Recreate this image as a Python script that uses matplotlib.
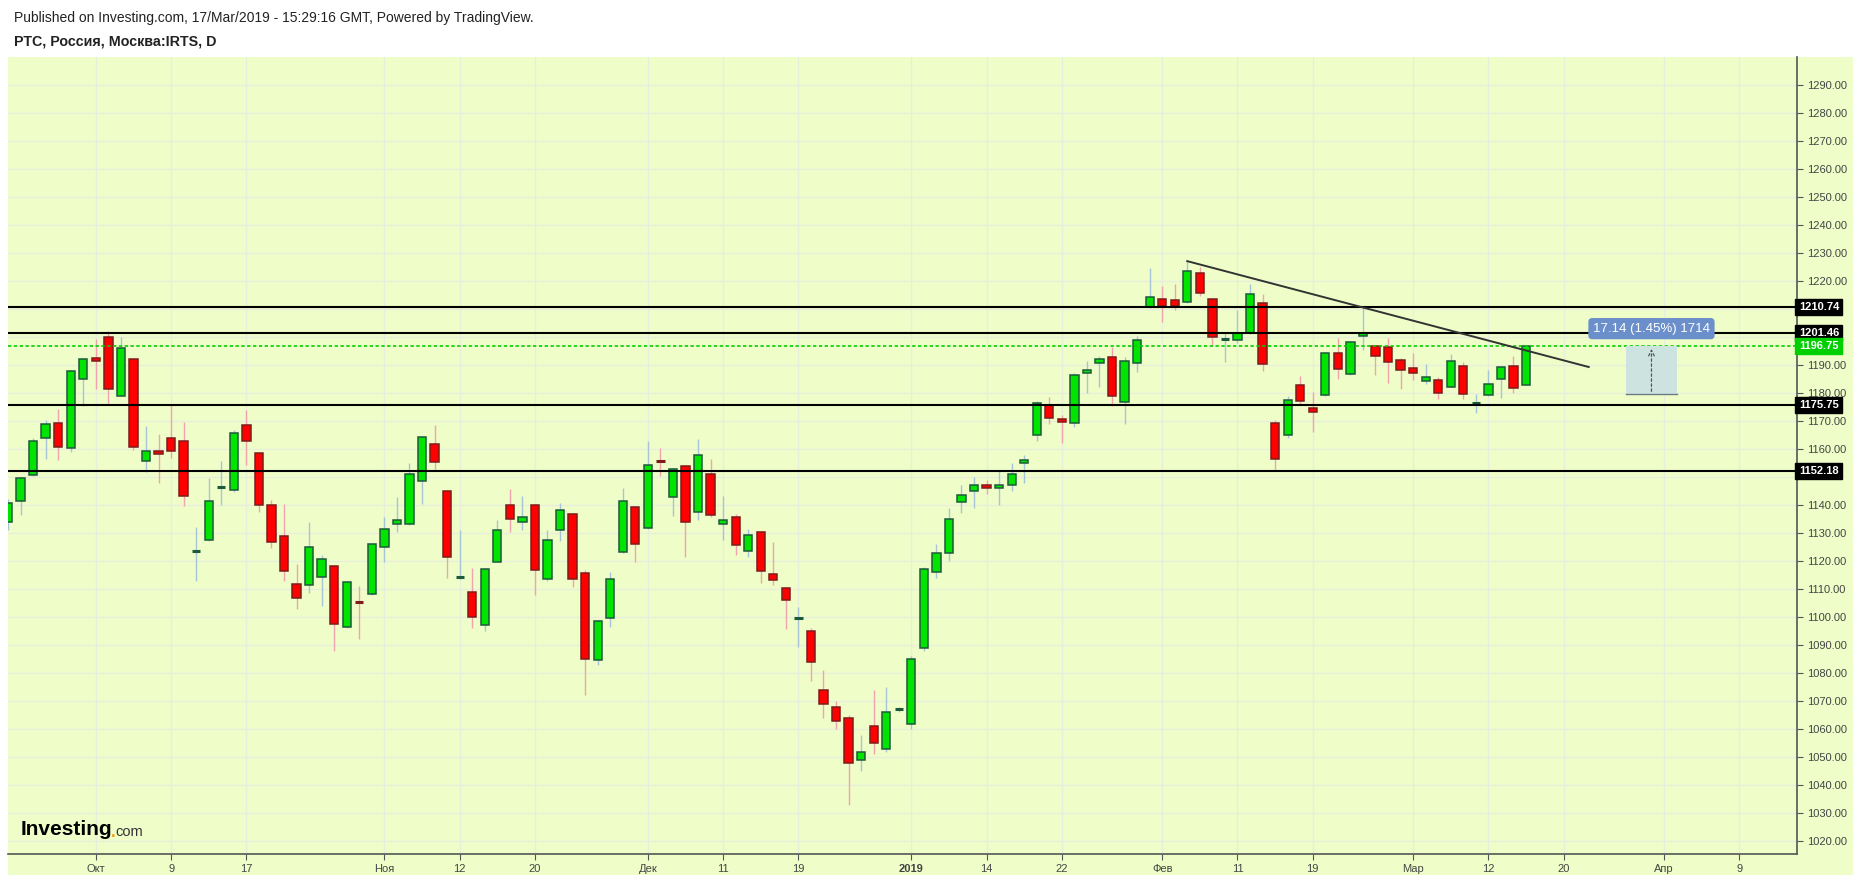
import matplotlib
matplotlib.use("Agg")
import matplotlib.pyplot as plt
import matplotlib.patches as patches
import matplotlib.transforms as mtransforms

# ---- data (daily OHLC, bar index 0 = 20 Sep 2018) ----
opens = [1134, 1141.45, 1150.7, 1163.95, 1169.3, 1160.4, 1185.0, 1192.5, 1200.0, 1179.0,
         1192.2, 1155.7, 1159.3, 1163.95, 1162.9, 1123.5, 1127.5, 1146.0, 1145.3, 1168.6,
         1158.6, 1140.0, 1128.96, 1111.8, 1111.5, 1114.3, 1118.25, 1096.6, 1105.5, 1108.25,
         1125.0, 1133.25, 1133.25, 1148.6, 1161.8, 1145.0, 1113.8, 1108.9, 1097, 1119.7,
         1140.1, 1133.9, 1140.1, 1113.6, 1131.1, 1136.8, 1115.75, 1084.8, 1099.6, 1123.1,
         1139.3, 1131.7, 1156.0, 1142.8, 1154.0, 1137.4, 1151.1, 1133.25, 1135.75, 1123.5,
         1130.4, 1115.4, 1110.4, 1099.3, 1095, 1074, 1068, 1064, 1049, 1061,
         1053, 1067, 1062, 1089, 1116, 1123, 1141, 1145, 1147, 1146,
         1147, 1155, 1165.1, 1175.75, 1170.7, 1169.3, 1187.05, 1190.6, 1192.9, 1176.8,
         1190.75, 1210.74, 1213.6, 1213.2, 1212.5, 1222.9, 1213.6, 1198.95, 1198.95, 1201.46,
         1212.2, 1169.4, 1165.1, 1183.0, 1174.7, 1179.3, 1194.3, 1186.8, 1200.4, 1196.7,
         1196.45, 1191.8, 1189.0, 1184.3, 1184.7, 1182.2, 1189.7, 1176.1, 1179.3, 1185.0,
         1189.7, 1182.9]
highs = [1142, 1150, 1164.1, 1170.5, 1174.4, 1188.2, 1192.4, 1199.4, 1202.3, 1200.1,
         1192.4, 1168.4, 1165.5, 1176.1, 1169.8, 1132.3, 1149.5, 1155.9, 1166.9, 1174.1,
         1158.8, 1141.9, 1140.5, 1119.1, 1134.1, 1122.3, 1118.5, 1112.7, 1111.2, 1126.3,
         1135.9, 1143.0, 1155.1, 1164.8, 1168.7, 1145.2, 1131.2, 1117.65, 1117.5, 1134.8,
         1145.9, 1143.4, 1140.3, 1131.2, 1140.9, 1137, 1116.9, 1099, 1116.2, 1146.2,
         1139.8, 1163.0, 1160.5, 1153.1, 1154.2, 1163.7, 1156.6, 1143.4, 1136.8, 1131.6,
         1130.6, 1126.9, 1110.6, 1103.6, 1096, 1081, 1070, 1065, 1058, 1074,
         1075, 1068, 1086, 1118, 1126, 1139, 1147, 1150, 1149, 1152,
         1155, 1158, 1177, 1178.7, 1172, 1187, 1191.6, 1193.4, 1196.6, 1193.0,
         1200.3, 1224.8, 1218.4, 1219.1, 1227.2, 1225.1, 1213.8, 1201.7, 1209.8, 1219.1,
         1215.5, 1170.5, 1179, 1186.2, 1180.2, 1194.5, 1199.8, 1198.5, 1211.0, 1196.75,
         1199.8, 1192.4, 1194.3, 1190.4, 1185.9, 1194.0, 1191.2, 1179.8, 1188.4, 1189.5,
         1193.4, 1196.9]
lows = [1131, 1136.3, 1150.5, 1156.6, 1156.2, 1158.8, 1175.3, 1181.3, 1175.9, 1178.8,
        1159.5, 1151.9, 1147.9, 1156.7, 1139.5, 1113, 1127.3, 1139.9, 1144.6, 1154.2,
        1137.7, 1124.8, 1113, 1103, 1108.5, 1104, 1088, 1096, 1092, 1108,
        1119.6, 1130.5, 1133, 1140.3, 1152.7, 1113.8, 1113.6, 1096, 1095, 1119.5,
        1130.5, 1131.2, 1107.8, 1112.8, 1127.3, 1110.6, 1072, 1083, 1096.4, 1123,
        1119.6, 1131.5, 1150.3, 1136.0, 1121.6, 1134.8, 1135.6, 1127.6, 1122.3, 1121.35,
        1112.1, 1111.35, 1095.6, 1089.2, 1077, 1064, 1060, 1033, 1045, 1051,
        1052, 1066, 1060, 1088, 1114, 1120, 1137, 1139, 1144, 1140,
        1145, 1148, 1163, 1169, 1162, 1168, 1180.0, 1182.1, 1175.4, 1169,
        1187.6, 1210.5, 1205.3, 1209.5, 1212, 1214.8, 1197.3, 1191, 1198, 1201,
        1188, 1152.2, 1164, 1176, 1166, 1179, 1184.9, 1186.3, 1195.3, 1186.3,
        1183.5, 1181.3, 1184.7, 1183.1, 1177.7, 1182, 1177.75, 1173, 1178.8, 1178.1,
        1179.9, 1182.8]
closes = [1140.7, 1149.7, 1162.9, 1168.95, 1160.7, 1187.9, 1192.2, 1191.5, 1181.5, 1196.1,
          1160.7, 1159.3, 1158.2, 1159.3, 1143.2, 1123.7, 1141.45, 1146.8, 1165.75, 1162.8,
          1139.9, 1126.8, 1116.5, 1106.8, 1125.0, 1120.75, 1097.5, 1112.5, 1105, 1126.1,
          1131.4, 1134.7, 1151.1, 1164.3, 1155.4, 1121.45, 1114.5, 1100, 1117.2, 1131.1,
          1135.0, 1135.75, 1116.8, 1127.5, 1138.25, 1113.6, 1085, 1098.6, 1113.6, 1141.5,
          1126.0, 1154.3, 1155.6, 1152.9, 1133.85, 1157.9, 1136.35, 1134.7, 1125.6, 1129.3,
          1116.3, 1113.25, 1106.1, 1099.8, 1084, 1069, 1063, 1048, 1052, 1055,
          1066, 1067.3, 1085, 1117, 1123, 1135, 1143.5, 1147, 1146, 1147,
          1151, 1156, 1176.45, 1171.0, 1169.8, 1186.45, 1188.25, 1192.2, 1178.95, 1191.45,
          1198.95, 1214.3, 1211.0, 1211.0, 1223.6, 1215.7, 1200.0, 1199.7, 1201.46, 1215.4,
          1190.5, 1156.5, 1177.6, 1177.05, 1173.2, 1194.3, 1188.6, 1198.2, 1201.46, 1193.2,
          1191.1, 1188.2, 1187.2, 1185.75, 1180.0, 1191.45, 1179.7, 1176.8, 1183.25, 1189.3,
          1181.8, 1196.75]

date_ticks = [7, 13, 19, 30, 36, 42, 51, 57, 63, 72, 78, 84, 92, 98, 104, 112, 118, 124, 132, 138]
date_labels = ["Окт", "9", "17", "Ноя", "12", "20", "Дек", "11", "19", "2019", "14", "22",
               "Фев", "11", "19", "Мар", "12", "20", "Апр", "9"]

levels = [1210.74, 1201.46, 1175.75, 1152.18]
last_price = 1196.75
trend_x = [94, 126]
trend_y = [1227.1, 1189.3]
measure_x = [129, 133]
measure_y = [1179.61, 1196.75]

BG = "#effec8"
UP, DOWN = "#00e400", "#ff0000"
UP_EDGE, DOWN_EDGE = "#1d5a3c", "#7d1c1c"
UP_WICK, DOWN_WICK = "#a8c4d8", "#f3a2b0"

W, H = 1853, 875
fig = plt.figure(figsize=(W / 100, H / 100), dpi=100, facecolor="white")
fig.patches.append(patches.Rectangle((8 / W, 0), 1 - 8 / W, 1 - 57 / H,
                                     transform=fig.transFigure, facecolor=BG,
                                     edgecolor="none", zorder=-10))
ax = fig.add_axes([8 / W, 21 / H, (1797 - 8) / W, (854 - 57) / H])
ax.set_facecolor(BG)

# grid
for t in range(1020, 1300, 10):
    ax.axhline(t, color="#e8eedb", lw=1, zorder=0)
for t in date_ticks:
    ax.axvline(t, color="#e8eedb", lw=1, zorder=0)

# candles
for i, (o, h, l, c) in enumerate(zip(opens, highs, lows, closes)):
    up = c >= o
    ax.vlines(i, l, h, color=UP_WICK if up else DOWN_WICK, lw=1.0, zorder=2)
    body = abs(c - o)
    if body < 0.8:
        ax.hlines((o + c) / 2, i - 0.33, i + 0.33, color=UP_EDGE if up else DOWN_EDGE,
                  lw=2.2, zorder=3)
    else:
        ax.bar(i, body, bottom=min(o, c), width=0.66, color=UP if up else DOWN,
               edgecolor=UP_EDGE if up else DOWN_EDGE, linewidth=1.1, zorder=3)

# horizontal levels
for lv in levels:
    ax.axhline(lv, color="black", lw=1.5, zorder=4)
ax.axhline(last_price, color="#00d000", lw=1.2, ls=(0, (2, 1.5)), zorder=4)

# trend line
ax.plot(trend_x, trend_y, color="#333333", lw=1.4, zorder=5)

# measure tool
ax.add_patch(patches.Rectangle((measure_x[0], measure_y[0]), measure_x[1] - measure_x[0],
                               measure_y[1] - measure_y[0], facecolor="#cde3df",
                               edgecolor="none", zorder=4))
ax.plot(measure_x, [measure_y[0]] * 2, color="#6a7a86", lw=1.0, zorder=5)
xm = (measure_x[0] + measure_x[1]) / 2
ax.annotate("", xy=(xm, measure_y[1]), xytext=(xm, measure_y[0]),
            arrowprops=dict(arrowstyle="->", color="#555555", lw=0.9, ls=(0, (2, 2))),
            zorder=5)
ax.text(xm, 1203.0, "17.14 (1.45%) 1714", ha="center", va="center", fontsize=9.5,
        color="white", family="Liberation Sans", zorder=6,
        bbox=dict(boxstyle="round,pad=0.35,rounding_size=0.3", fc="#6b8fcb", ec="none"))

ax.set_xlim(0, 142.6)
ax.set_ylim(1015.4, 1300)

# axes styling
for s in ["top", "left"]:
    ax.spines[s].set_visible(False)
for s in ["bottom", "right"]:
    ax.spines[s].set_color("#555555")
    ax.spines[s].set_linewidth(1.2)
ax.yaxis.tick_right()
yt = list(range(1020, 1300, 10))
ax.set_yticks(yt)
ax.set_yticklabels(["" if t in (1150, 1200, 1210) else f"{t}.00" for t in yt],
                   fontsize=8, color="#444444", family="Liberation Sans")
ax.set_xticks(date_ticks)
ax.set_xticklabels(date_labels, fontsize=8, color="#444444", family="Liberation Sans")
for lbl in ax.get_xticklabels():
    if lbl.get_text() == "2019":
        lbl.set_fontweight("bold")
ax.tick_params(axis="y", length=4, width=0.8, color="#555555", pad=3)
ax.tick_params(axis="x", length=4, width=0.8, color="#555555", pad=3)

# price labels on the right axis
trans = mtransforms.blended_transform_factory(ax.transAxes, ax.transData)
for lv in levels:
    ax.text(1.001, lv, f"{lv:.2f}", transform=trans, ha="left", va="center", fontsize=8,
            color="white", family="Liberation Sans", fontweight="bold", clip_on=False,
            bbox=dict(boxstyle="square,pad=0.3", fc="black", ec="black"))
ax.text(1.001, last_price, f"{last_price:.2f}", transform=trans, ha="left", va="center",
        fontsize=8, color="white", family="Liberation Sans", fontweight="bold", clip_on=False,
        bbox=dict(boxstyle="square,pad=0.3", fc="#00d000", ec="#00d000"))

# header
fig.text(14 / W, 1 - 18 / H, "Published on Investing.com, 17/Mar/2019 - 15:29:16 GMT, Powered by TradingView.",
         fontsize=10, family="Liberation Sans", va="center", ha="left", color="#222222")
fig.text(14 / W, 1 - 41 / H, "РТС, Россия, Москва:IRTS, D", fontsize=10.3, fontweight="bold",
         family="Liberation Sans", va="center", ha="left", color="#222222")

# logo
t1 = ax.text(0.007, 0.031, "Investing", transform=ax.transAxes, fontsize=15, fontweight="bold",
             family="Liberation Sans", color="black", va="center", ha="left")
fig.canvas.draw()
bb = t1.get_window_extent().transformed(ax.transAxes.inverted())
t2 = ax.text(bb.x1 - 0.0005, 0.027, ".", transform=ax.transAxes, fontsize=12, fontweight="bold",
             family="Liberation Sans", color="#f39c12", va="center", ha="left")
bb2 = t2.get_window_extent().transformed(ax.transAxes.inverted())
ax.text(bb2.x1 - 0.0005, 0.028, "com", transform=ax.transAxes, fontsize=10.5,
        family="Liberation Sans", color="#333333", va="center", ha="left")

fig.savefig("out.png", dpi=100, facecolor=fig.get_facecolor())
